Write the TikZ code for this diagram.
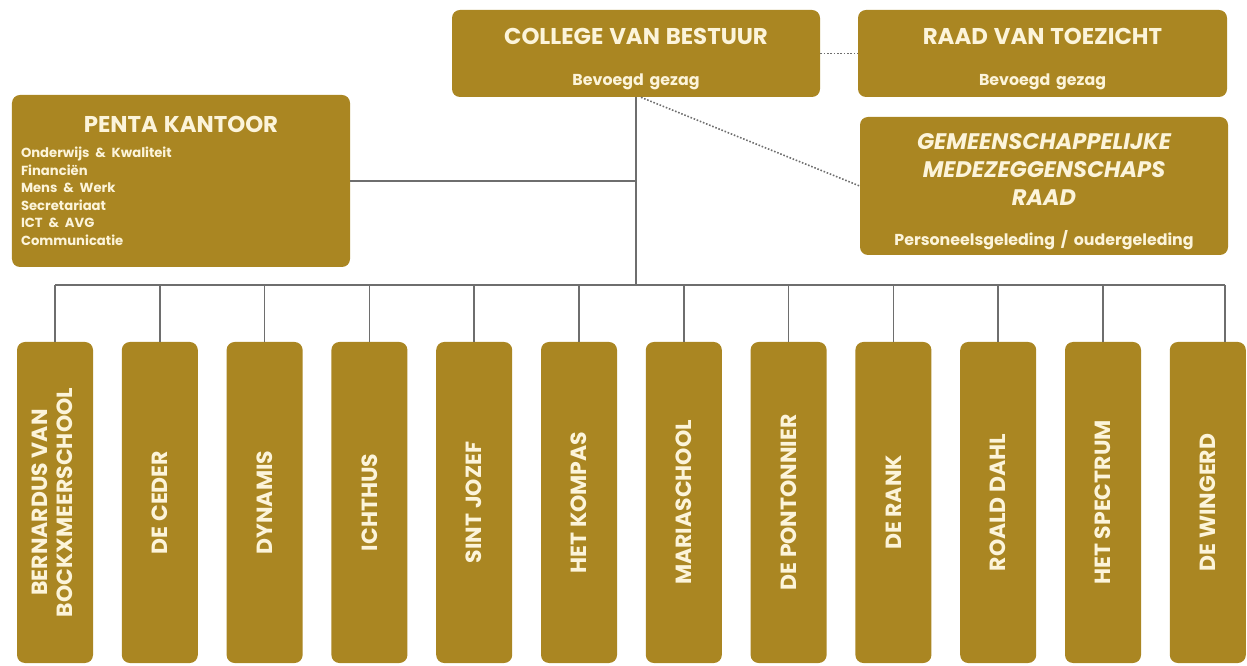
\documentclass[tikz,border=0pt]{standalone}
\usepackage{fontspec}
\setmainfont{Poppins}
\usepackage{graphicx}
\usetikzlibrary{positioning}

\definecolor{pentagold}{RGB}{170,134,34}
\definecolor{pentacream}{RGB}{252,244,218}
\definecolor{pentaline}{RGB}{110,110,110}

\newcommand{\pentatitle}{\fontsize{13}{15}\selectfont}
\newcommand{\pentasub}{\fontsize{9}{11}\selectfont}
\newcommand{\pentaitem}{\fontsize{7.5}{10}\selectfont}
\newcommand{\vtext}[1]{\rotatebox{90}{#1}}
\newcommand{\topgap}{\rule{0pt}{0.54cm}}

\begin{document}
\begin{tikzpicture}[node distance=2.096cm, on grid,
    box/.style={rectangle, rounded corners=0.16cm, fill=pentagold, text=pentacream,
                font=\bfseries, align=center, inner sep=0pt},
    school/.style={box, minimum width=1.52cm, minimum height=6.42cm,
                   font=\bfseries\fontsize{12.5}{14}\selectfont},
    link/.style={draw=pentaline, line width=0.9pt},
    dotlink/.style={link, densely dotted}]
   \useasboundingbox (0,0) rectangle (24.94,-13.32);

   % bestuur en toezicht
   \node[box, text width=7cm, minimum width=7.36cm, minimum height=1.74cm] (cvb) at (12.72,-1.07)
        {\pentatitle\topgap COLLEGE VAN BESTUUR\par\vspace{0.44cm}\pentasub Bevoegd gezag\par};
   \node[box, text width=7cm, minimum width=7.38cm, minimum height=1.74cm] (rvt) at (20.85,-1.07)
        {\pentatitle\topgap RAAD VAN TOEZICHT\par\vspace{0.44cm}\pentasub Bevoegd gezag\par};
   \node[box, text width=6.4cm, minimum width=6.76cm, minimum height=3.44cm, align=left] (pk) at (3.62,-3.62)
        {{\centering\pentatitle PENTA KANTOOR\par}\vspace{0.14cm}
         \pentaitem Onderwijs \& Kwaliteit\\ Financiën\\ Mens \& Werk\\ Secretariaat\\ ICT \& AVG\\ Communicatie\par};
   \node[box, text width=7cm, minimum width=7.36cm, minimum height=2.76cm] (gmr) at (20.88,-3.72)
        {\itshape\fontsize{12.8}{16}\selectfont\topgap GEMEENSCHAPPELIJKE\\ MEDEZEGGENSCHAPS\\ RAAD\par
         \vspace{0.42cm}\upshape\pentasub Personeelsgeleding / oudergeleding\par};

   % scholen
   \node[school] (s1) at (1.10,-10.05) {\vtext{\begin{tabular}{@{}c@{}}BERNARDUS VAN\\ BOCKXMEERSCHOOL\end{tabular}}};
   \node[school] (s2)  [right=of s1]  {\vtext{DE CEDER}};
   \node[school] (s3)  [right=of s2]  {\vtext{DYNAMIS}};
   \node[school] (s4)  [right=of s3]  {\vtext{ICHTHUS}};
   \node[school] (s5)  [right=of s4]  {\vtext{SINT JOZEF}};
   \node[school] (s6)  [right=of s5]  {\vtext{HET KOMPAS}};
   \node[school] (s7)  [right=of s6]  {\vtext{MARIASCHOOL}};
   \node[school] (s8)  [right=of s7]  {\vtext{DE PONTONNIER}};
   \node[school] (s9)  [right=of s8]  {\vtext{DE RANK}};
   \node[school] (s10) [right=of s9]  {\vtext{ROALD DAHL}};
   \node[school] (s11) [right=of s10] {\vtext{HET SPECTRUM}};
   \node[school] (s12) [right=of s11] {\vtext{DE WINGERD}};

   \coordinate (bus) at (0,-5.70);
   \coordinate (s12top) at ([xshift=0.34cm]s12.north);

   % lijnen
   \draw[dotlink] (cvb.east) -- (rvt.west);
   \draw[dotlink] ([xshift=0.1cm]cvb.south) -- (gmr.west);
   \draw[link] (cvb.south) -- (cvb.south |- bus);
   \draw[link] (pk.east) -- (pk.east -| cvb.south);
   \draw[link] (s1.north |- bus) -- (s12top |- bus);

   \path[link]
    (s1.north)  edge (s1.north |- bus)
    (s2.north)  edge (s2.north |- bus)
    (s3.north)  edge (s3.north |- bus)
    (s4.north)  edge (s4.north |- bus)
    (s5.north)  edge (s5.north |- bus)
    (s6.north)  edge (s6.north |- bus)
    (s7.north)  edge (s7.north |- bus)
    (s8.north)  edge (s8.north |- bus)
    (s9.north)  edge (s9.north |- bus)
    (s10.north) edge (s10.north |- bus)
    (s11.north) edge (s11.north |- bus)
    (s12top)    edge (s12top |- bus);
\end{tikzpicture}
\end{document}
